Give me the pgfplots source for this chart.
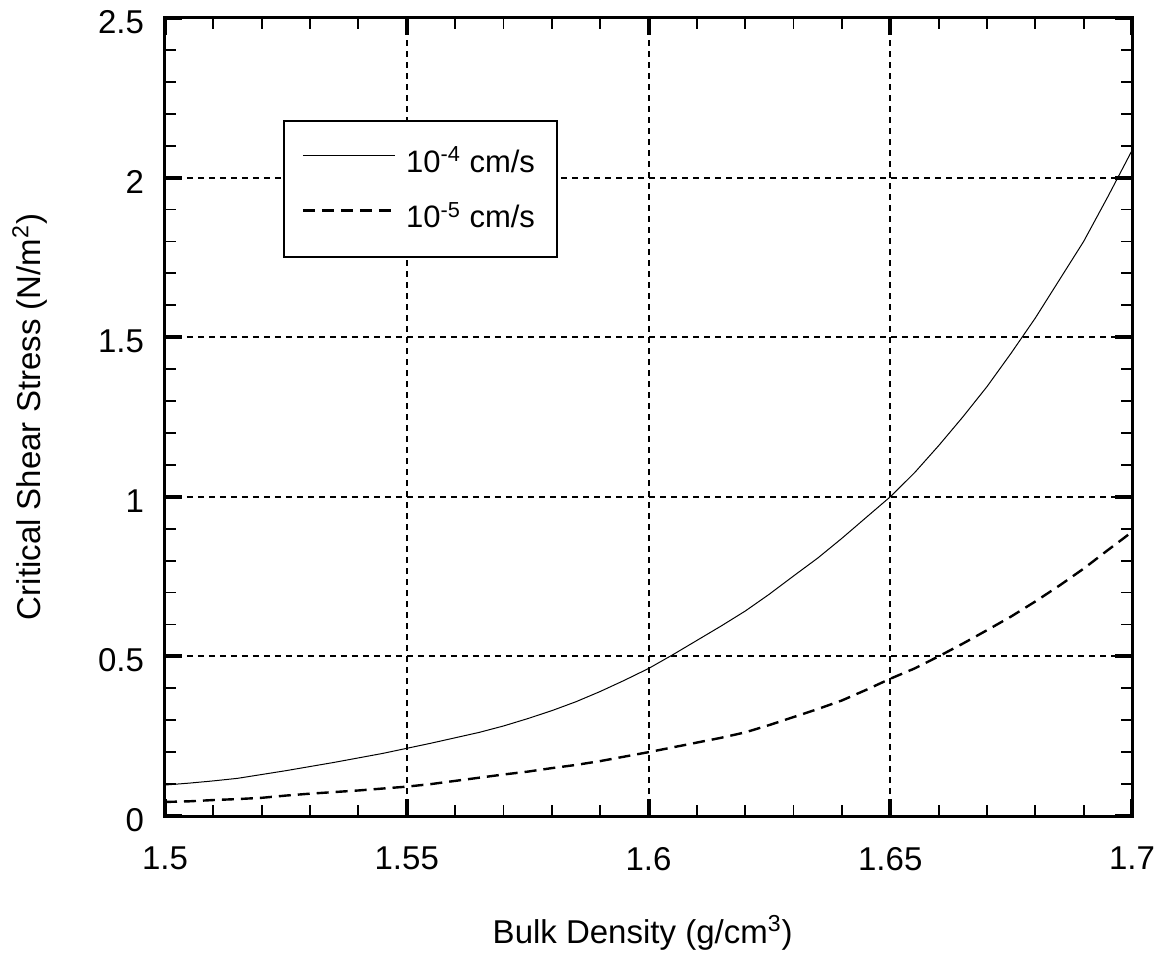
\documentclass[border=0pt]{standalone}
\usepackage{fontspec}
\setmainfont{Liberation Sans}
\usepackage{pgfplots}
\pgfplotsset{compat=1.18}
\begin{document}
\begin{tikzpicture}
\begin{axis}[
  scale only axis, width=483.5pt, height=399pt,
  xmin=1.5, xmax=1.7, ymin=0, ymax=2.5,
  xtick={1.5,1.55,1.6,1.65,1.7}, ytick={0,0.5,1,1.5,2,2.5},
  xticklabels={1.5,1.55,1.6,1.65,1.7}, yticklabels={0,0.5,1,1.5,2,2.5},
  minor x tick num=4, minor y tick num=4,
  tick align=inside,
  major tick length=8.5pt, minor tick length=5.5pt,
  major tick style={black, line width=2pt},
  minor tick style={black, line width=0.9pt},
  axis line style={line width=1.5pt},
  grid=major,
  major grid style={black, line width=1pt, dash pattern=on 3pt off 2.5pt},
  tick label style={font=\fontsize{16.5pt}{19pt}\selectfont},
  xticklabel style={yshift=-12pt},
  yticklabel style={xshift=-7pt, yshift=-2pt},
  label style={font=\fontsize{16.5pt}{19pt}\selectfont},
  xlabel={Bulk Density (g/cm\textsuperscript{3})},
  ylabel={Critical Shear Stress (N/m\textsuperscript{2})},
  xlabel style={at={(axis description cs:0.494,-0.1466)}, anchor=center},
  ylabel style={at={(axis description cs:-0.1396,0.5)}, anchor=center},
  legend style={at={(axis description cs:0.122,0.872)}, anchor=north west,
    draw=black, line width=0.8pt, fill=white,
    font=\fontsize{15.5pt}{18pt}\selectfont,
    inner xsep=9pt, inner ysep=11pt, row sep=9.5pt,
    legend cell align=left},
  legend image code/.code={\draw[#1] (0pt,3pt) -- (46pt,3pt); \path (49pt,3pt);},
]
\addplot[black, line width=0.5pt] coordinates {
(1.500,0.097) (1.505,0.103) (1.510,0.110) (1.515,0.118) (1.520,0.130)
(1.525,0.142) (1.530,0.155) (1.535,0.168) (1.540,0.182) (1.545,0.196)
(1.550,0.212) (1.555,0.228) (1.560,0.245) (1.565,0.262) (1.570,0.282)
(1.575,0.305) (1.580,0.330) (1.585,0.358) (1.590,0.390) (1.595,0.425)
(1.600,0.462) (1.605,0.505) (1.610,0.550) (1.615,0.595) (1.620,0.642)
(1.625,0.695) (1.630,0.752) (1.635,0.808) (1.640,0.870) (1.645,0.935)
(1.650,1.000) (1.655,1.075) (1.660,1.160) (1.665,1.250) (1.670,1.345)
(1.675,1.450) (1.680,1.560) (1.685,1.680) (1.690,1.800) (1.695,1.940)
(1.700,2.085)
};
\addlegendentry{10\textsuperscript{-4} cm/s}
\addplot[black, line width=1.2pt, dash pattern=on 6pt off 3.5pt] coordinates {
(1.500,0.044) (1.505,0.046) (1.510,0.050) (1.515,0.053) (1.520,0.057)
(1.525,0.064) (1.530,0.070) (1.535,0.075) (1.540,0.080) (1.545,0.086)
(1.550,0.092) (1.555,0.100) (1.560,0.110) (1.565,0.120) (1.570,0.130)
(1.575,0.139) (1.580,0.150) (1.585,0.160) (1.590,0.172) (1.595,0.186)
(1.600,0.200) (1.605,0.215) (1.610,0.230) (1.615,0.245) (1.620,0.262)
(1.625,0.285) (1.630,0.310) (1.635,0.335) (1.640,0.362) (1.645,0.395)
(1.650,0.430) (1.655,0.462) (1.660,0.500) (1.665,0.540) (1.670,0.582)
(1.675,0.625) (1.680,0.672) (1.685,0.722) (1.690,0.775) (1.695,0.833)
(1.700,0.890)
};
\addlegendentry{10\textsuperscript{-5} cm/s}
\end{axis}
\pgfresetboundingbox
\path ([shift={(-82.5pt,-69pt)}]current axis.south west) rectangle ([shift={(12.5pt,9pt)}]current axis.north east);
\end{tikzpicture}
\end{document}
